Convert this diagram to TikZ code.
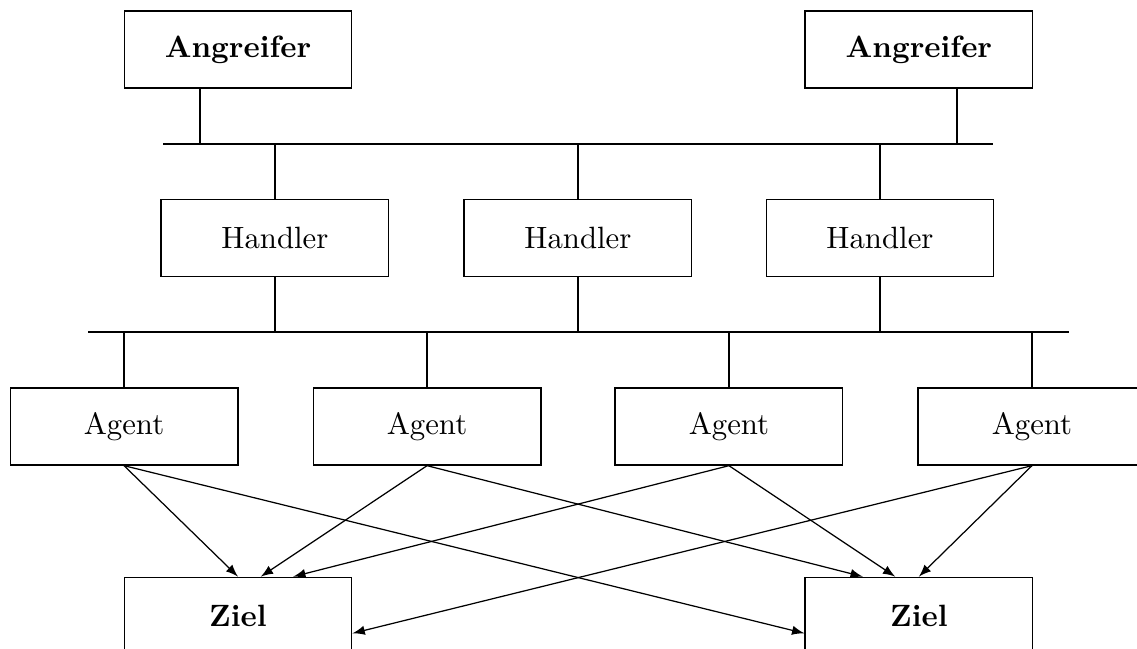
\documentclass[tikz,border=0pt]{standalone}
\usetikzlibrary{arrows}
\begin{document}
\begin{tikzpicture}[
		box/.style={draw,minimum width=2.6cm,minimum height=0.88cm,inner sep=0pt},
		>=latex]
			\useasboundingbox (0,0) rectangle (12.98,-7.409);
			\node[box] (angrA) at (2.717,-0.565) {\textbf{Angreifer}};
			\node[box] (angrB) at (10.49,-0.565) {\textbf{Angreifer}};
			\node[box] (handA) at (3.139,-2.717) {Handler};
			\node[box] (handB) at (6.598,-2.717) {Handler};
			\node[box] (handC) at (10.046,-2.717) {Handler};
			\node[box] (agA) at (1.416,-4.869) {Agent};
			\node[box] (agB) at (4.875,-4.869) {Agent};
			\node[box] (agC) at (8.322,-4.869) {Agent};
			\node[box] (agD) at (11.781,-4.869) {Agent};
			\node[box] (zielA) at (2.717,-7.03) {\textbf{Ziel}};
			\node[box] (zielB) at (10.49,-7.03) {\textbf{Ziel}};
			\coordinate (busAl) at (1.861,-1.644);
			\coordinate (busAr) at (11.336,-1.644);
			\coordinate (busBl) at (1.005,-3.790);
			\coordinate (busBr) at (12.204,-3.790);
			\draw (busAl) to (busAr);
			\draw (busBl) to (busBr);
			\draw ([xshift=-0.434cm]angrA.south) to ([xshift=-0.434cm]angrA.south |- busAl);
			\draw ([xshift=0.434cm]angrB.south) to ([xshift=0.434cm]angrB.south |- busAl);
			\foreach \n in {handA,handB,handC} {
				\draw (\n.north) to (\n.north |- busAl);
				\draw (\n.south) to (\n.south |- busBl);
			}
			\foreach \n in {agA,agB,agC,agD}
				\draw (\n.north) to (\n.north |- busBl);
			\draw[->] (agA.south) to (zielA.north);
			\draw[->] (agA.south) to ([yshift=-0.2cm]zielB.west);
			\draw[->] (agB.south) to ([xshift=0.26cm]zielA.north);
			\draw[->] (agB.south) to ([xshift=-0.64cm]zielB.north);
			\draw[->] (agC.south) to ([xshift=0.63cm]zielA.north);
			\draw[->] (agC.south) to ([xshift=-0.27cm]zielB.north);
			\draw[->] (agD.south) to ([yshift=-0.2cm]zielA.east);
			\draw[->] (agD.south) to (zielB.north);
		\end{tikzpicture}
\end{document}
